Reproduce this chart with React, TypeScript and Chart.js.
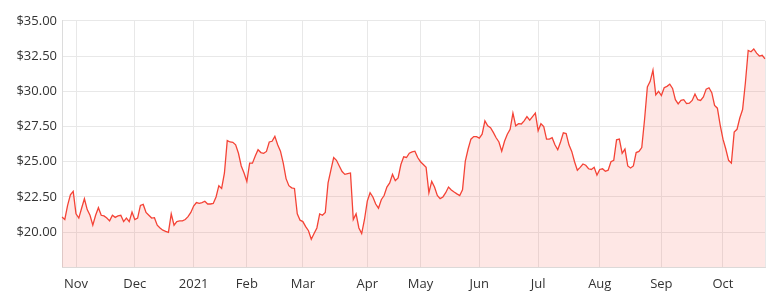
import React, { useEffect, useRef } from "react";
import { Chart, registerables } from "chart.js";

Chart.register(...registerables);

// Month labels shown on the x axis (first trading day of each month); first entry is a partial month, unlabeled
const monthNames = ["", "Nov", "Dec", "2021", "Feb", "Mar", "Apr", "May", "Jun", "Jul", "Aug", "Sep", "Oct"];
// Trading days per month in the series (Oct 2020 partial ... Oct 2021 partial)
const tradingDaysPerMonth = [5, 21, 21, 19, 20, 23, 19, 21, 21, 22, 22, 22, 16];

// Daily closing prices
const prices = [
  21.08, 20.9, 21.9, 22.65, 22.9, 21.3, 21.0, 21.7, 22.37, 21.6,
  21.2, 20.5, 21.2, 21.74, 21.2, 21.15, 21.0, 20.8, 21.2, 21.05,
  21.15, 21.2, 20.75, 21.0, 20.75, 21.43, 20.9, 21.0, 21.9, 21.97,
  21.4, 21.2, 21.0, 21.03, 20.5, 20.3, 20.14, 20.05, 19.98, 21.3,
  20.49, 20.75, 20.8, 20.8, 20.9, 21.1, 21.4, 21.85, 22.1, 22.05,
  22.1, 22.2, 22.0, 22.0, 22.04, 22.5, 23.3, 23.1, 24.2, 26.5,
  26.4, 26.38, 26.2, 25.6, 24.7, 24.2, 23.6, 24.9, 24.9, 25.4,
  25.85, 25.65, 25.6, 25.73, 26.4, 26.45, 26.8, 26.2, 25.75, 24.9,
  23.8, 23.3, 23.15, 23.1, 21.3, 20.85, 20.75, 20.4, 20.1, 19.5,
  19.9, 20.3, 21.3, 21.2, 21.4, 23.5, 24.4, 25.3, 25.1, 24.7,
  24.3, 24.1, 24.15, 24.2, 20.9, 21.3, 20.3, 19.9, 20.9, 22.2,
  22.8, 22.5, 22.0, 21.7, 22.3, 22.6, 23.2, 23.5, 24.1, 23.65,
  23.85, 24.8, 25.35, 25.3, 25.6, 25.7, 25.75, 25.3, 25.0, 24.8,
  24.6, 22.8, 23.6, 23.2, 22.6, 22.38, 22.5, 22.8, 23.2, 23.0,
  22.85, 22.72, 22.6, 23.0, 25.05, 25.9, 26.6, 26.78, 26.78, 26.67,
  26.95, 27.9, 27.55, 27.42, 27.08, 26.7, 26.4, 25.75, 26.45, 26.95,
  27.3, 28.45, 27.55, 27.7, 27.68, 27.9, 28.2, 27.95, 28.2, 28.45,
  27.2, 27.7, 27.5, 26.6, 26.6, 26.7, 26.2, 25.85, 26.4, 27.05,
  27.0, 26.2, 25.73, 25.0, 24.4, 24.6, 24.84, 24.75, 24.5, 24.45,
  24.6, 24.05, 24.45, 24.5, 24.32, 24.4, 25.0, 25.1, 26.55, 26.6,
  25.6, 25.9, 24.7, 24.56, 24.7, 25.65, 25.73, 26.0, 28.0, 30.3,
  30.7, 31.5, 29.75, 30.0, 29.7, 30.25, 30.35, 30.5, 30.2, 29.4,
  29.1, 29.35, 29.4, 29.13, 29.15, 29.35, 29.8, 29.4, 29.35, 29.6,
  30.15, 30.25, 29.9, 29.0, 28.8, 27.6, 26.6, 25.9, 25.1, 24.9,
  27.1, 27.3, 28.1, 28.7, 30.6, 32.9, 32.8, 33.0, 32.7, 32.5,
  32.55, 32.3,
];

const yMin = 17.5;
const yMax = 35;
const yStep = 2.5;

const xLabels: string[] = [];
monthNames.forEach((name, m) => {
  for (let d = 0; d < tradingDaysPerMonth[m]; d++) xLabels.push(d === 0 ? name : "");
});

const FONT = '"Open Sans", "DejaVu Sans", sans-serif';

export default function App() {
  const ref = useRef<HTMLCanvasElement | null>(null);
  useEffect(() => {
    if (!ref.current) return;
    const last = xLabels.length - 1;
    const chart = new Chart(ref.current, {
      type: "line",
      data: {
        labels: xLabels,
        datasets: [
          {
            data: prices,
            borderColor: "rgb(244, 67, 54)",
            backgroundColor: "rgba(244, 67, 54, 0.13)",
            borderWidth: 1.3,
            pointRadius: 0,
            tension: 0,
            fill: "start",
          },
        ],
      },
      options: {
        animation: false,
        responsive: true,
        maintainAspectRatio: false,
        layout: { padding: { top: 4, right: 3, left: 0, bottom: 0 } },
        plugins: { legend: { display: false }, tooltip: { enabled: false } },
        scales: {
          x: {
            grid: { color: "#e8e8e8", drawTicks: false },
            border: { color: "#dcdcdc" },
            afterFit: (scale: any) => {
              scale.paddingRight = 0;
              scale.paddingLeft = 0;
            },
            ticks: {
              autoSkip: false,
              maxRotation: 0,
              padding: 9,
              color: "#333",
              font: { family: FONT, size: 13 },
              callback: (_v: any, i: number) =>
                xLabels[i] ? xLabels[i] : i === last ? "" : null,
            },
          },
          y: {
            min: yMin,
            max: yMax,
            grid: { color: "#e8e8e8", drawTicks: false },
            border: { color: "#dcdcdc" },
            afterFit: (scale: any) => {
              scale.width = 54;
            },
            ticks: {
              stepSize: yStep,
              padding: 5,
              color: "#333",
              font: { family: FONT, size: 13 },
              callback: (v: any) => (Number(v) === yMin ? "" : "$" + Number(v).toFixed(2)),
            },
          },
        },
      },
    });
    return () => chart.destroy();
  }, []);
  return (
    <div style={{ width: "760px", height: "293px", position: "relative" }}>
      <canvas ref={ref} />
    </div>
  );
}
